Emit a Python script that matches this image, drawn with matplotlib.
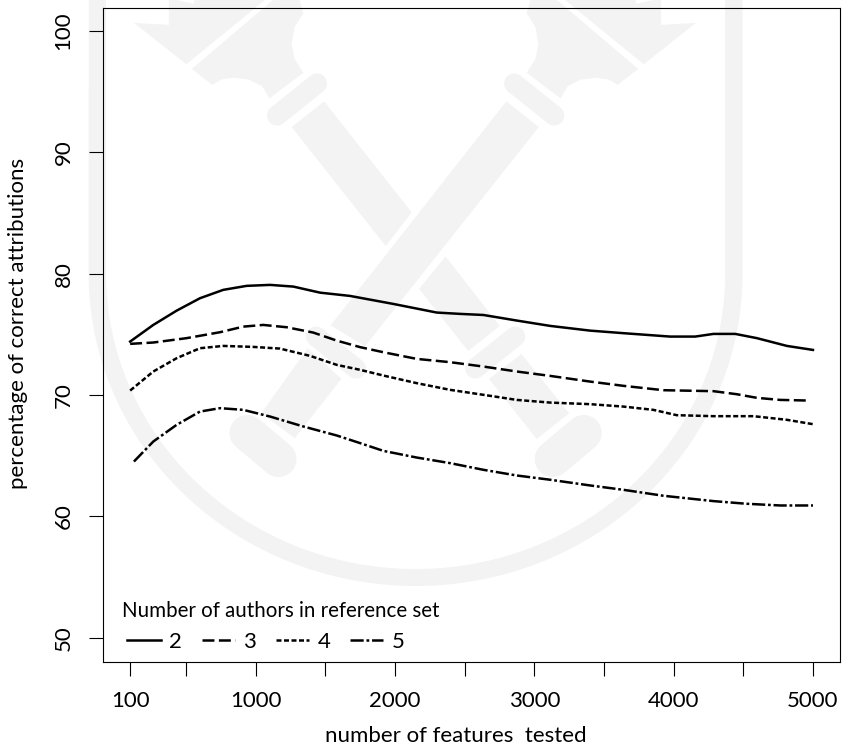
import numpy as np
import matplotlib
matplotlib.use("Agg")
import matplotlib.pyplot as plt
from matplotlib.patches import Polygon

plt.rcParams['font.family'] = ['Lato', 'DejaVu Sans']
plt.rcParams['lines.scale_dashes'] = False

# values
x2 = [100, 266, 434, 601, 768, 936, 1104, 1271, 1463, 1678, 1989, 2300, 2468, 2635, 2875, 3114, 3401, 3640, 3975, 4155, 4286, 4442, 4598, 4813, 5000]
y2 = [74.41, 75.78, 76.96, 77.98, 78.67, 79.0, 79.08, 78.94, 78.44, 78.17, 77.51, 76.80, 76.69, 76.6, 76.14, 75.70, 75.31, 75.10, 74.82, 74.82, 75.04, 75.04, 74.69, 74.05, 73.72]

x3 = [100, 266, 505, 745, 912, 1055, 1223, 1414, 1582, 1750, 1917, 2157, 2396, 2635, 2875, 3114, 3401, 3640, 3927, 4286, 4453, 4598, 4765, 4957]
y3 = [74.22, 74.33, 74.69, 75.18, 75.64, 75.78, 75.59, 75.15, 74.49, 73.95, 73.53, 72.98, 72.71, 72.35, 71.94, 71.58, 71.11, 70.76, 70.40, 70.32, 70.07, 69.77, 69.60, 69.55]

x4 = [100, 266, 434, 601, 768, 983, 1175, 1391, 1582, 1750, 1917, 2157, 2396, 2635, 2875, 3114, 3401, 3640, 3855, 4023, 4286, 4573, 4813, 5000]
y4 = [70.37, 71.94, 73.04, 73.86, 74.05, 73.97, 73.83, 73.23, 72.49, 72.08, 71.61, 70.98, 70.43, 70.02, 69.60, 69.38, 69.25, 69.05, 68.78, 68.34, 68.26, 68.26, 67.96, 67.6]

x5 = [127, 266, 434, 601, 745, 912, 1104, 1343, 1582, 1750, 1917, 2157, 2396, 2635, 2875, 3114, 3401, 3640, 3927, 4286, 4525, 4765, 5000]
y5 = [64.52, 66.17, 67.55, 68.64, 68.92, 68.78, 68.23, 67.41, 66.67, 66.04, 65.40, 64.85, 64.39, 63.84, 63.37, 63.02, 62.55, 62.19, 61.70, 61.26, 61.04, 60.90, 60.90]

xticks = [100, 500, 1000, 1500, 2000, 2500, 3000, 3500, 4000, 4500, 5000]
xlabels = ['100', '', '1000', '', '2000', '', '3000', '', '4000', '', '5000']
yticks = [50, 60, 70, 80, 90, 100]

grey = '#f3f3f3'
W, H = 842, 750

fig = plt.figure(figsize=(W / 100, H / 100), dpi=100)

# watermark crest behind the plot, in pixel coordinates
bg = fig.add_axes([0, 0, 1, 1], zorder=0)
bg.set_xlim(0, W)
bg.set_ylim(H, 0)
bg.axis('off')


def to_px(pts, mirror=False):
    out = []
    for px, py in pts:
        if mirror:
            px = 1545 - px
        out.append((80 + px / 2.306, py / 2.613))
    return out


t = np.linspace(np.pi, 0, 120)
outer = [(88.7, -5)] + list(zip(415.6 + 327 * np.cos(t), 274 + 312 * np.sin(t))) + [(742.6, -5)]
t = t[::-1]
inner = [(725, -5)] + list(zip(415.6 + 309.5 * np.cos(t), 274 + 295 * np.sin(t))) + [(106, -5)]
bg.add_patch(Polygon(outer + inner, fc=grey, ec='none'))

blade = [(125, 60), (205, 65), (205, -5), (262, 10), (265, -5), (432, -5), (245, 168)]
head = [(258, 180), (450, -5), (505, -5), (515, 35), (495, 70), (488, 115), (495, 155), (515, 190),
        (437, 257), (420, 225), (390, 208), (355, 203), (325, 208), (305, 222)]
for m in (False, True):
    bg.add_patch(Polygon(to_px(blade, m), fc=grey, ec='none'))
    bg.add_patch(Polygon(to_px(head, m), fc=grey, ec='none'))

handles = [[(983, 265), (1058, 332), (657, 905), (578, 850)],
           [(525, 910), (603, 990), (495, 1145), (418, 1080)],
           [(563, 265), (488, 332), (705, 643), (765, 555)],
           [(843, 670), (782, 755), (895, 917), (968, 852)],
           [(1018, 925), (943, 990), (1053, 1147), (1128, 1080)]]
for h in handles:
    bg.add_patch(Polygon(to_px(h), fc=grey, ec='none'))

# collars and knobs: endpoints in pixels, width in points
for x_a, y_a, x_b, y_b, lw in [(277, 115.5, 317, 83.5, 14.5), (316, 336.5, 356, 368.5, 14.5), (247.5, 433, 278.5, 459, 26)]:
    bg.plot([x_a, x_b], [y_a, y_b], color=grey, lw=lw, solid_capstyle='round')
    bg.plot([831.2 - x_a, 831.2 - x_b], [y_a, y_b], color=grey, lw=lw, solid_capstyle='round')

ax = fig.add_axes([102.7 / W, 1 - 662 / H, (840 - 102.7) / W, (662 - 8) / H], zorder=1)
ax.patch.set_alpha(0)

lw = 1.8
ax.plot(x2, y2, color='k', lw=lw, ls='-', label='2')
ax.plot(x3, y3, color='k', lw=lw, ls=(0, (8.6, 3.2)), label='3')
ax.plot(x4, y4, color='k', lw=lw, ls=(0, (3.6, 1.8)), label='4')
ax.plot(x5, y5, color='k', lw=lw, ls=(0, (9.5, 2, 2, 2)), label='5')

ax.set_xlim(-97, 5194)
ax.set_ylim(48, 101.9)
ax.set_xticks(xticks)
ax.set_xticklabels(xlabels)
ax.set_yticks(yticks)
ax.set_yticklabels([str(v) for v in yticks], rotation=90, va='center')
ax.tick_params(axis='both', length=10, width=0.8, labelsize=16, pad=11)
ax.set_xlabel('number of features  tested', fontsize=16)
ax.set_ylabel('percentage of correct attributions', fontsize=16)
ax.xaxis.set_label_coords(0.479, -0.0985)
ax.yaxis.set_label_coords(-0.1013, 0.5176)

ax.text(0.0262, 0.078, 'Number of authors in reference set', transform=ax.transAxes, fontsize=14.8, va='center')
ax.legend(loc='lower left', bbox_to_anchor=(0.0230, 0.003), ncols=4, frameon=False, fontsize=16, handlelength=1.5,
          handletextpad=0.38, columnspacing=0.88, borderaxespad=0, borderpad=0.35)

fig.savefig('out.png', dpi=100)
